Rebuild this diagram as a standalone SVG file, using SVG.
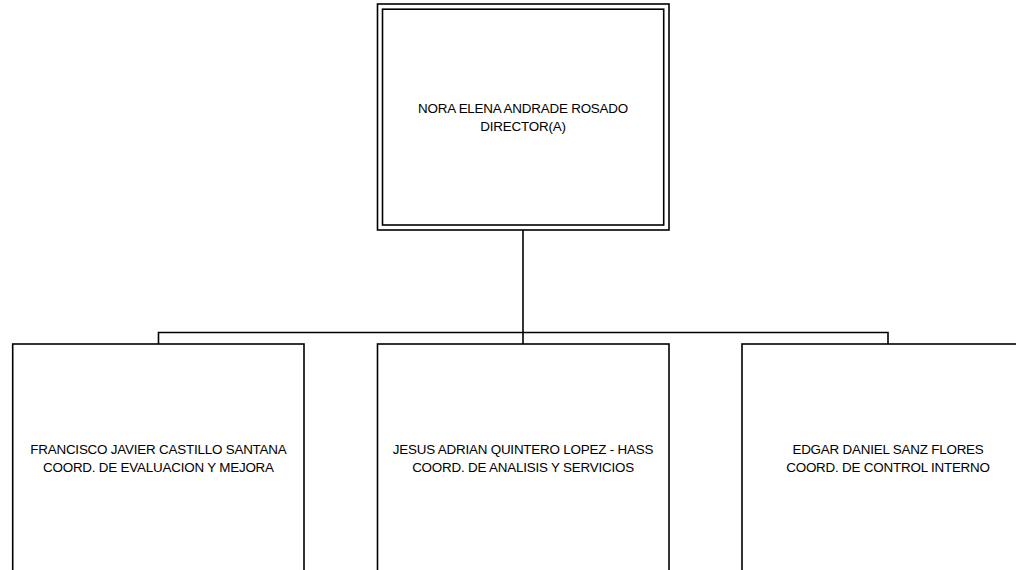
<svg xmlns="http://www.w3.org/2000/svg" width="1016" height="570" viewBox="0 0 1016 570">
<style>
.box{fill:#fff;stroke:#000;stroke-width:1.6}
.ln{fill:none;stroke:#000;stroke-width:1.6}
text{font-family:"Liberation Sans",Arial,sans-serif;font-size:13.4px;letter-spacing:-0.2px;fill:#000;text-anchor:middle}
</style>
<rect width="1016" height="570" fill="#fff"/>
<g id="connectors">
<line class="ln" x1="523" y1="230" x2="523" y2="344"/>
<polyline class="ln" points="158.5,344 158.5,332.5 888,332.5 888,344"/>
</g>
<g id="director">
<rect class="box" x="377.5" y="4" width="291.5" height="226"/>
<rect class="box" x="382.5" y="9.2" width="281.2" height="215.8"/>
<text x="523" y="112.5">NORA ELENA ANDRADE ROSADO</text>
<text x="523" y="130.5">DIRECTOR(A)</text>
</g>
<g id="coord-evaluacion">
<rect class="box" x="12.7" y="344" width="291.3" height="240"/>
<text x="158.4" y="454">FRANCISCO JAVIER CASTILLO SANTANA</text>
<text x="158.4" y="471.5">COORD. DE EVALUACION Y MEJORA</text>
</g>
<g id="coord-analisis">
<rect class="box" x="377.5" y="344" width="291.5" height="240"/>
<text x="523" y="454">JESUS ADRIAN QUINTERO LOPEZ - HASS</text>
<text x="523" y="471.5">COORD. DE ANALISIS Y SERVICIOS</text>
</g>
<g id="coord-control">
<rect class="box" x="742" y="344" width="292" height="240"/>
<text x="888" y="454">EDGAR DANIEL SANZ FLORES</text>
<text x="888" y="471.5">COORD. DE CONTROL INTERNO</text>
</g>
</svg>
